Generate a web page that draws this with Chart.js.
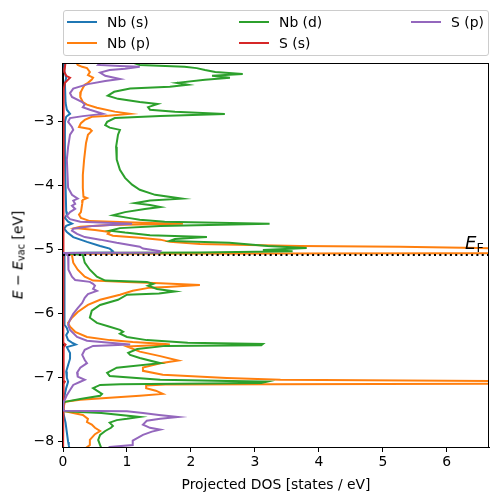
<!DOCTYPE html>
<html>
<head>
<meta charset="utf-8">
<script src="https://cdn.jsdelivr.net/npm/chart.js@4.4.0/dist/chart.umd.min.js"></script>
<style>
  body { margin: 0; background: #fff; font-family: "DejaVu Sans", sans-serif; }
  #wrap { position: relative; width: 498px; height: 502px; }
  .legend-box { position: absolute; left: 63px; top: 10px; width: 424px; height: 44px;
    border: 1px solid #cccccc; border-radius: 3px; background: rgba(255,255,255,0.8); }
  .swatch { position: absolute; width: 30px; height: 2px; }
  .ltext { position: absolute; font-size: 13.9px; line-height: 16px; color: #000; white-space: nowrap; }
  #ylabel { position: absolute; left: 18px; top: 255px; transform: translate(-50%, -50%) rotate(-90deg);
    font-size: 13.9px; white-space: nowrap; color: #000; }
  #ylabel sub { font-size: 9.7px; vertical-align: -2px; }
  #eflabel { position: absolute; left: 465px; top: 234px; font-size: 18px; line-height: 18px; color: #000; white-space: nowrap; }
  #eflabel sub { font-size: 12.6px; font-style: normal; vertical-align: -3px; }
</style>
</head>
<body>
<div id="wrap">
  <canvas id="dosChart" width="498" height="502"></canvas>
  <div class="legend-box"></div>
  <div id="ylabel"><i>E</i> &minus; <i>E</i><sub>vac</sub> [eV]</div>
  <div id="eflabel"><i>E</i><sub>F</sub></div>
</div>
<script>
// [energy (eV), projected DOS] pairs
const nbS = [
  [-2.06,0.03],[-2.2,0.02],[-2.31,0.05],[-2.4,0.03],[-2.7,0.04],[-2.81,0.06],[-2.875,0.11],[-2.92,0.05],
  [-3.0,0.03],[-3.5,0.03],[-4.0,0.04],[-4.4,0.05],[-4.45,0.06],[-4.5,0.03],[-4.56,0.08],[-4.59,0.14],
  [-4.625,0.05],[-4.67,0.02],[-4.72,0.06],[-4.8,0.16],[-4.875,0.375],[-4.94,0.58],[-4.98,0.73],[-5.02,0.78],
  [-5.04,0.75],[-5.05,0.0],[-5.08,0.02],[-5.5,0.02],[-6.0,0.02],[-6.17,0.03],[-6.22,0.06],[-6.28,0.08],
  [-6.33,0.05],[-6.41,0.08],[-6.45,0.14],[-6.48,0.2],[-6.52,0.06],[-6.61,0.11],[-6.7,0.11],[-6.8,0.08],
  [-6.9,0.05],[-7.0,0.06],[-7.06,0.08],[-7.16,0.05],[-7.25,0.03],[-7.375,0.01],[-7.5,0.0],[-7.55,0.01],
  [-7.7,0.04],[-7.85,0.06],[-8.0,0.08],[-8.05,0.09],[-8.1,0.1]
];
const nbP = [
  [-2.06,0.2],[-2.11,0.23],[-2.14,0.3],[-2.16,0.375],[-2.22,0.42],[-2.27,0.39],[-2.31,0.47],[-2.34,0.45],
  [-2.39,0.39],[-2.42,0.34],[-2.47,0.31],[-2.53,0.28],[-2.61,0.27],[-2.69,0.31],[-2.73,0.375],[-2.78,0.53],
  [-2.84,0.81],[-2.875,1.05],[-2.91,0.66],[-2.92,0.45],[-2.97,0.34],[-3.02,0.28],[-3.08,0.25],[-3.11,0.42],
  [-3.14,0.45],[-3.2,0.39],[-3.33,0.36],[-3.59,0.33],[-3.83,0.31],[-4.03,0.31],[-4.17,0.32],[-4.19,0.375],
  [-4.22,0.31],[-4.28,0.3],[-4.41,0.28],[-4.45,0.25],[-4.5,0.28],[-4.55,0.42],[-4.58,1.36],[-4.59,1.875],
  [-4.61,0.73],[-4.64,0.27],[-4.66,0.19],[-4.69,0.5],[-4.72,0.73],[-4.75,0.7],[-4.78,0.78],[-4.81,1.2],
  [-4.84,1.52],[-4.875,1.67],[-4.91,2.14],[-4.94,3.7],[-4.95,5.27],[-4.97,6.5],[-4.99,7.5],[-5.02,8.0],
  [-5.05,7.5],[-5.06,0.1],[-5.08,0.14],[-5.2,0.16],[-5.31,0.23],[-5.42,0.34],[-5.48,0.47],[-5.5,1.0],
  [-5.52,1.52],[-5.55,2.14],[-5.58,1.62],[-5.59,1.36],[-5.64,1.09],[-5.7,0.89],[-5.78,0.58],[-5.86,0.39],
  [-5.97,0.23],[-6.06,0.14],[-6.14,0.08],[-6.2,0.11],[-6.28,0.19],[-6.36,0.375],[-6.41,0.73],[-6.44,1.09],
  [-6.47,1.6],[-6.48,1.67],[-6.51,1.0],[-6.59,1.2],[-6.66,1.52],[-6.73,1.8],[-6.77,1.52],[-6.84,1.25],
  [-6.89,1.25],[-6.95,1.56],[-7.0,2.56],[-7.03,3.4],[-7.05,7.0],[-7.08,7.5],[-7.09,7.2],[-7.105,1.6],
  [-7.12,1.3],[-7.16,1.3],[-7.2,1.45],[-7.25,1.56],[-7.28,1.2],[-7.31,0.73],[-7.34,0.27],[-7.375,0.03],
  [-7.5,0.0],[-7.52,0.02],[-7.55,0.16],[-7.58,0.31],[-7.64,0.39],[-7.69,0.375],[-7.73,0.45],[-7.78,0.5],
  [-7.83,0.58],[-7.88,0.5],[-7.97,0.42],[-8.05,0.42],[-8.1,0.35]
];
const nbD = [
  [-2.06,1.05],[-2.11,1.2],[-2.14,1.9],[-2.16,2.09],[-2.19,2.22],[-2.22,2.38],[-2.25,2.81],[-2.28,2.33],
  [-2.31,2.61],[-2.34,2.22],[-2.39,1.78],[-2.42,1.95],[-2.45,1.67],[-2.48,1.05],[-2.53,0.8],[-2.59,0.7],
  [-2.64,0.86],[-2.69,1.2],[-2.72,1.48],[-2.77,1.33],[-2.81,1.36],[-2.84,1.75],[-2.875,2.53],[-2.91,1.52],
  [-2.94,0.81],[-3.0,0.69],[-3.05,0.66],[-3.09,0.73],[-3.125,0.89],[-3.2,0.86],[-3.39,0.83],[-3.59,0.84],
  [-3.75,0.89],[-3.875,0.97],[-3.98,1.08],[-4.06,1.2],[-4.14,1.44],[-4.2,1.86],[-4.23,1.36],[-4.27,1.125],
  [-4.3,1.36],[-4.33,1.52],[-4.36,1.28],[-4.41,0.97],[-4.46,0.78],[-4.5,1.02],[-4.53,1.2],[-4.56,1.59],
  [-4.59,3.23],[-4.625,1.52],[-4.66,0.89],[-4.7,0.73],[-4.73,0.97],[-4.77,1.36],[-4.8,2.25],[-4.83,1.75],
  [-4.86,1.67],[-4.89,2.6],[-4.94,3.2],[-4.97,3.81],[-5.0,3.125],[-5.02,3.59],[-5.04,2.14],[-5.05,0.0],
  [-5.08,0.31],[-5.2,0.34],[-5.31,0.42],[-5.42,0.53],[-5.48,0.66],[-5.5,1.31],[-5.53,1.41],[-5.56,1.33],
  [-5.61,1.47],[-5.65,1.75],[-5.68,1.5],[-5.7,1.0],[-5.78,0.86],[-5.86,0.58],[-5.95,0.45],[-6.06,0.42],
  [-6.14,0.53],[-6.2,0.73],[-6.25,0.89],[-6.28,0.94],[-6.31,0.89],[-6.36,1.0],[-6.41,1.31],[-6.45,1.95],
  [-6.47,3.125],[-6.49,3.1],[-6.5,1.6],[-6.55,1.16],[-6.61,1.02],[-6.64,1.05],[-6.69,1.2],[-6.77,1.52],
  [-6.84,0.84],[-6.92,0.69],[-6.97,0.73],[-7.03,1.52],[-7.06,3.19],[-7.08,3.1],[-7.1,0.9],[-7.11,0.58],
  [-7.16,0.47],[-7.2,0.53],[-7.25,0.61],[-7.28,0.58],[-7.33,0.27],[-7.375,0.03],[-7.4,0.0],[-7.5,0.0],
  [-7.52,0.03],[-7.55,0.6],[-7.61,1.2],[-7.64,1.0],[-7.66,0.84],[-7.7,0.73],[-7.75,0.78],[-7.78,0.75],
  [-7.83,0.66],[-7.89,0.58],[-7.97,0.55],[-8.05,0.58],[-8.1,0.6]
];
const sS = [
  [-2.06,0.04],[-2.15,0.03],[-2.22,0.02],[-2.28,0.05],[-2.31,0.11],[-2.34,0.08],[-2.39,0.03],[-2.5,0.01],
  [-3.0,0.005],[-5.05,0.005],[-5.06,0.0],[-5.08,0.005],[-6.45,0.01],[-6.48,0.04],[-6.52,0.01],[-7.04,0.01],
  [-7.06,0.03],[-7.09,0.01],[-7.375,0.0],[-7.5,0.0],[-8.1,0.005]
];
const sP = [
  [-2.06,0.6],[-2.11,0.55],[-2.125,0.89],[-2.14,1.2],[-2.17,0.97],[-2.19,0.73],[-2.23,0.58],[-2.28,0.66],
  [-2.33,0.89],[-2.36,0.66],[-2.41,0.39],[-2.48,0.16],[-2.55,0.11],[-2.61,0.14],[-2.69,0.3],[-2.73,0.34],
  [-2.77,0.31],[-2.81,0.42],[-2.875,0.625],[-2.91,0.31],[-2.94,0.11],[-3.0,0.08],[-3.08,0.14],[-3.125,0.16],
  [-3.2,0.11],[-3.39,0.08],[-3.59,0.06],[-4.03,0.08],[-4.14,0.14],[-4.2,0.23],[-4.23,0.16],[-4.28,0.19],
  [-4.31,0.14],[-4.36,0.19],[-4.41,0.11],[-4.47,0.06],[-4.52,0.11],[-4.56,0.27],[-4.59,1.08],[-4.625,0.47],
  [-4.67,0.16],[-4.7,0.14],[-4.75,0.22],[-4.8,0.34],[-4.84,0.58],[-4.89,0.84],[-4.95,1.2],[-4.98,1.25],
  [-5.02,1.52],[-5.04,1.5],[-5.05,0.02],[-5.09,0.08],[-5.2,0.09],[-5.31,0.08],[-5.42,0.14],[-5.47,0.19],
  [-5.5,0.42],[-5.53,0.47],[-5.56,0.5],[-5.61,0.47],[-5.64,0.53],[-5.69,0.39],[-5.75,0.34],[-5.83,0.3],
  [-5.91,0.23],[-6.0,0.16],[-6.09,0.11],[-6.17,0.08],[-6.25,0.11],[-6.36,0.22],[-6.42,0.375],[-6.45,0.73],
  [-6.48,1.05],[-6.5,0.47],[-6.56,0.34],[-6.64,0.3],[-6.72,0.34],[-6.77,0.375],[-6.84,0.27],[-6.92,0.22],
  [-6.98,0.23],[-7.03,0.34],[-7.06,0.27],[-7.11,0.16],[-7.19,0.11],[-7.27,0.06],[-7.34,0.03],[-7.375,0.01],
  [-7.5,0.0],[-7.515,0.02],[-7.52,1.0],[-7.55,1.25],[-7.58,1.5],[-7.61,1.8],[-7.64,1.52],[-7.67,1.31],
  [-7.73,1.25],[-7.78,1.36],[-7.81,1.52],[-7.84,1.39],[-7.89,1.25],[-7.94,1.16],[-7.98,1.09],[-8.05,1.09],
  [-8.08,0.73],[-8.1,0.7]
];

const seriesLabels = ['Nb (s)', 'Nb (p)', 'Nb (d)', 'S (s)', 'S (p)'];
const seriesData = [nbS, nbP, nbD, sS, sP];
const seriesColors = ['#1f77b4', '#ff7f0e', '#2ca02c', '#d62728', '#9467bd'];

const fermiLevel = -5.08;
const energyMin = -8.08, energyMax = -2.08;
const dosMax = 6.66;
const energyTicks = [-8, -7, -6, -5, -4, -3];
const dosTicks = [0, 1, 2, 3, 4, 5, 6];

const tickFont = { family: 'DejaVu Sans', size: 13.9 };
function fmt(v) { return v < 0 ? '\u2212' + Math.abs(v) : String(v); }

// matplotlib draws later series on top, chart.js draws the first dataset on top
let datasets = [{
  label: 'EF',
  data: [{ x: 0, y: fermiLevel }, { x: dosMax, y: fermiLevel }],
  showLine: true, pointRadius: 0, borderColor: '#000', borderWidth: 2, borderDash: [2, 3.3]
}];
for (let i = seriesData.length - 1; i >= 0; i--) {
  datasets.push({
    label: seriesLabels[i],
    data: seriesData[i].map(p => ({ x: p[1], y: p[0] })),
    showLine: true, pointRadius: 0, borderColor: seriesColors[i], borderWidth: 2, tension: 0, fill: false
  });
}

// frame round the plot area (top and right spines)
const frame = {
  id: 'frame',
  afterDatasetsDraw(chart) {
    const a = chart.chartArea, c = chart.ctx;
    c.save();
    c.strokeStyle = '#000';
    c.lineWidth = 1;
    c.strokeRect(Math.round(a.left) - 0.5, Math.round(a.top) + 0.5, Math.round(a.right - a.left), Math.round(a.bottom - a.top));
    c.restore();
  }
};

let dosChart = new Chart(document.getElementById('dosChart'), {
  type: 'scatter',
  data: { datasets: datasets },
  options: {
    responsive: false,
    animation: false,
    layout: { padding: { top: 63, right: 9, left: 0, bottom: 0 } },
    plugins: { legend: { display: false }, tooltip: { enabled: false } },
    scales: {
      x: {
        type: 'linear', min: 0, max: dosMax,
        afterBuildTicks: s => { s.ticks = dosTicks.map(v => ({ value: v })); },
        afterFit: s => { s.height = 55; },
        grid: { display: true, drawOnChartArea: false, tickLength: 5, color: '#000', lineWidth: 1 },
        border: { display: true, color: '#000', width: 1 },
        ticks: { color: '#000', font: tickFont, padding: 2, maxRotation: 0, callback: fmt },
        title: { display: true, text: 'Projected DOS [states / eV]', color: '#000', font: tickFont, padding: { top: 2, bottom: 8 } }
      },
      y: {
        type: 'linear', min: energyMin, max: energyMax,
        afterBuildTicks: s => { s.ticks = energyTicks.map(v => ({ value: v })); },
        afterFit: s => { s.width = 63; },
        grid: { display: true, drawOnChartArea: false, tickLength: 5, color: '#000', lineWidth: 1 },
        border: { display: true, color: '#000', width: 1 },
        ticks: { color: '#000', font: tickFont, padding: 4, callback: fmt }
      }
    }
  },
  plugins: [frame]
});

// legend, filled column by column like the original
const wrap = document.getElementById('wrap');
const legendCols = [67, 239, 411];
const legendRows = [22.3, 42.7];
for (let i = 0; i < seriesLabels.length; i++) {
  let col = Math.floor(i / 2), row = i % 2;
  let sw = document.createElement('div');
  sw.className = 'swatch';
  sw.style.left = legendCols[col] + 'px';
  sw.style.top = (legendRows[row] - 1) + 'px';
  sw.style.background = seriesColors[i];
  wrap.appendChild(sw);
  let tx = document.createElement('div');
  tx.className = 'ltext';
  tx.style.left = (legendCols[col] + 40) + 'px';
  tx.style.top = (legendRows[row] - 8) + 'px';
  tx.textContent = seriesLabels[i];
  wrap.appendChild(tx);
}
</script>
</body>
</html>
